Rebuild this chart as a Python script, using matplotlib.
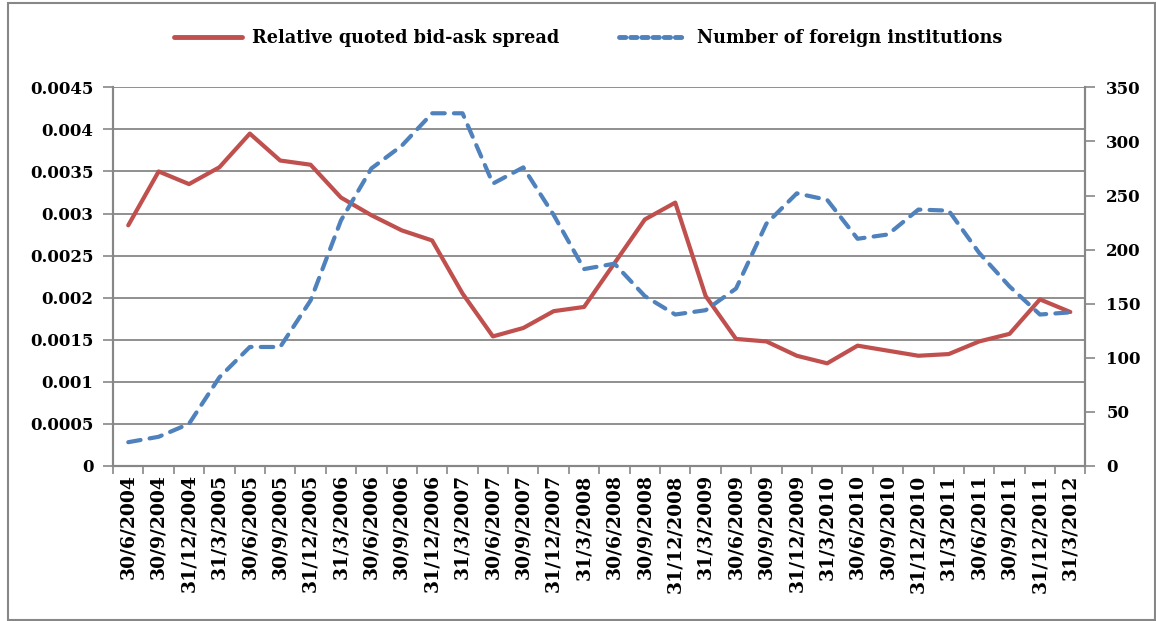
import matplotlib
matplotlib.use("Agg")
import matplotlib.pyplot as plt
from matplotlib.lines import Line2D
from matplotlib.patches import Rectangle

dates = [
    "30/6/2004", "30/9/2004", "31/12/2004",
    "31/3/2005", "30/6/2005", "30/9/2005", "31/12/2005",
    "31/3/2006", "30/6/2006", "30/9/2006", "31/12/2006",
    "31/3/2007", "30/6/2007", "30/9/2007", "31/12/2007",
    "31/3/2008", "30/6/2008", "30/9/2008", "31/12/2008",
    "31/3/2009", "30/6/2009", "30/9/2009", "31/12/2009",
    "31/3/2010", "30/6/2010", "30/9/2010", "31/12/2010",
    "31/3/2011", "30/6/2011", "30/9/2011", "31/12/2011",
    "31/3/2012",
]
spread = [
    0.00286, 0.00350, 0.00335, 0.00355, 0.00395, 0.00363, 0.00358,
    0.00319, 0.00298, 0.00280, 0.00268, 0.00205, 0.00154, 0.00164,
    0.00184, 0.00189, 0.00241, 0.00293, 0.00313, 0.00202, 0.00151,
    0.00148, 0.00131, 0.00122, 0.00143, 0.00137, 0.00131, 0.00133,
    0.00148, 0.00157, 0.00198, 0.00183,
]
foreign = [
    22, 27, 39, 82, 110, 110, 153, 227, 275, 296, 326, 326, 261, 276,
    232, 182, 187, 157, 140, 144, 164, 224, 252, 246, 210, 214, 237,
    236, 197, 166, 140, 142,
]
left_ticks = [0, 0.0005, 0.001, 0.0015, 0.002, 0.0025, 0.003, 0.0035, 0.004, 0.0045]
left_labels = ["0", "0.0005", "0.001", "0.0015", "0.002", "0.0025", "0.003", "0.0035", "0.004", "0.0045"]
right_ticks = [0, 50, 100, 150, 200, 250, 300, 350]

RED = "#C0504D"
BLUE = "#4F81BD"
GRAY = "#878787"

plt.rcParams["font.family"] = ["DejaVu Serif"]
plt.rcParams["font.weight"] = "bold"

fig = plt.figure(figsize=(11.56, 6.21), dpi=100)
ax = fig.add_axes([0.0978, 0.2496, 0.8412, 0.6098])
ax2 = ax.twinx()

x = list(range(len(dates)))
ax.plot(x, spread, color=RED, linewidth=3, solid_capstyle="round", zorder=3)
ax2.plot(x, foreign, color=BLUE, linewidth=3, linestyle=(0, (3, 2.2)),
         dash_capstyle="round", zorder=3)

ax.set_xlim(-0.5, len(dates) - 0.5)
ax.set_ylim(0, 0.0045)
ax2.set_ylim(0, 350)

ax.set_yticks(left_ticks)
ax.set_yticklabels(left_labels, fontsize=12, fontweight="bold")
ax2.set_yticks(right_ticks)
ax2.set_yticklabels([str(v) for v in right_ticks], fontsize=12, fontweight="bold")

ax.set_xticks(x)
ax.set_xticklabels(dates, rotation=90, fontsize=13.5, fontweight="bold")
ax.set_xticks([i - 0.5 for i in range(len(dates) + 1)], minor=True)
ax.tick_params(axis="x", which="major", length=0, pad=6)
ax.tick_params(axis="x", which="minor", length=6, width=1.2, color=GRAY, direction="out")
ax.tick_params(axis="y", length=7, width=1.2, color=GRAY, direction="out", pad=7)
ax2.tick_params(axis="y", length=7, width=1.2, color=GRAY, direction="out", pad=8)

ax.grid(axis="y", color=GRAY, linewidth=1.3)
ax.set_axisbelow(True)
for a in (ax, ax2):
    a.spines["top"].set_visible(False)
    for side in ("left", "right", "bottom"):
        a.spines[side].set_color(GRAY)
        a.spines[side].set_linewidth(1.5)

handles = [
    Line2D([], [], color=RED, linewidth=3.5, solid_capstyle="round"),
    Line2D([], [], color=BLUE, linewidth=3.5, linestyle=(0, (1.3, 1.0)), dash_capstyle="round"),
]
fig.legend(handles, ["Relative quoted bid-ask spread", "Number of foreign institutions"],
           loc="center", bbox_to_anchor=(0.509, 1 - 38 / 621), ncol=2, frameon=False,
           prop={"size": 12.7, "weight": "bold"}, handlelength=3.8, handletextpad=0.6,
           columnspacing=3.4)

fig.add_artist(Rectangle((8 / 1156, 1 / 621), 1147 / 1156, 617 / 621,
                         transform=fig.transFigure, fill=False, edgecolor=GRAY, linewidth=1.5))

fig.savefig("out.png", dpi=100)
